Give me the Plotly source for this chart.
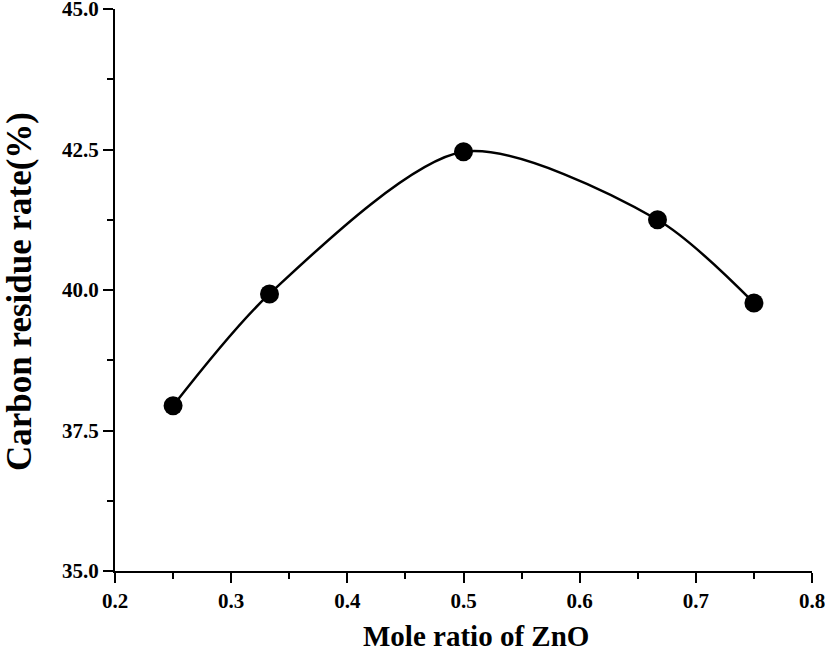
import plotly.graph_objects as go

mole_ratio = [0.25, 0.333, 0.5, 0.667, 0.75]
carbon_residue = [37.94, 39.93, 42.46, 41.25, 39.77]

x_ticks = [0.2, 0.3, 0.4, 0.5, 0.6, 0.7, 0.8]
y_ticks = [35.0, 37.5, 40.0, 42.5, 45.0]

font_family = "Liberation Serif, Times New Roman, serif"

fig = go.Figure()
fig.add_trace(go.Scatter(
    x=mole_ratio, y=carbon_residue,
    mode="lines+markers",
    line=dict(color="black", width=2.5, shape="spline", smoothing=0.8),
    marker=dict(color="black", size=19),
    showlegend=False,
))

axis_common = dict(
    showgrid=False, zeroline=False, showline=True, linecolor="black", linewidth=2,
    ticks="outside", tickcolor="black", tickwidth=2, ticklen=10,
    tickfont=dict(family=font_family, size=21, color="black", weight="bold"),
    minor=dict(ticks="outside", ticklen=6, tickwidth=2, tickcolor="black"),
    mirror=False, ticklabeloverflow="allow",
)

fig.update_layout(
    width=825, height=655,
    margin=dict(l=115, r=13, t=9, b=84, autoexpand=False),
    plot_bgcolor="white", paper_bgcolor="white",
    xaxis=dict(
        range=[0.2, 0.8], tickvals=x_ticks, ticktext=[f"{v:.1f}" for v in x_ticks],
        minor_tickvals=[0.25, 0.35, 0.45, 0.55, 0.65, 0.75],
        **axis_common,
    ),
    yaxis=dict(
        range=[35, 45], tickvals=y_ticks, ticktext=[f"{v:.1f}" for v in y_ticks],
        minor_tickvals=[36.25, 38.75, 41.25, 43.75],
        **axis_common,
    ),
    annotations=[
        dict(text="Mole ratio of ZnO", xref="paper", yref="paper", x=0.5, y=0,
             xanchor="center", yanchor="middle", xshift=12, yshift=-65,
             showarrow=False,
             font=dict(family=font_family, size=29, color="black", weight="bold")),
        dict(text="Carbon residue rate(%)", xref="paper", yref="paper", x=0, y=0.5,
             xanchor="center", yanchor="middle", xshift=-96, yshift=-2, textangle=-90,
             showarrow=False,
             font=dict(family=font_family, size=35, color="black", weight="bold")),
    ],
)

fig.write_html(
    "out.html",
    config={"displayModeBar": False},
    post_script="document.body.style.margin='0';document.body.style.overflow='hidden';",
)
